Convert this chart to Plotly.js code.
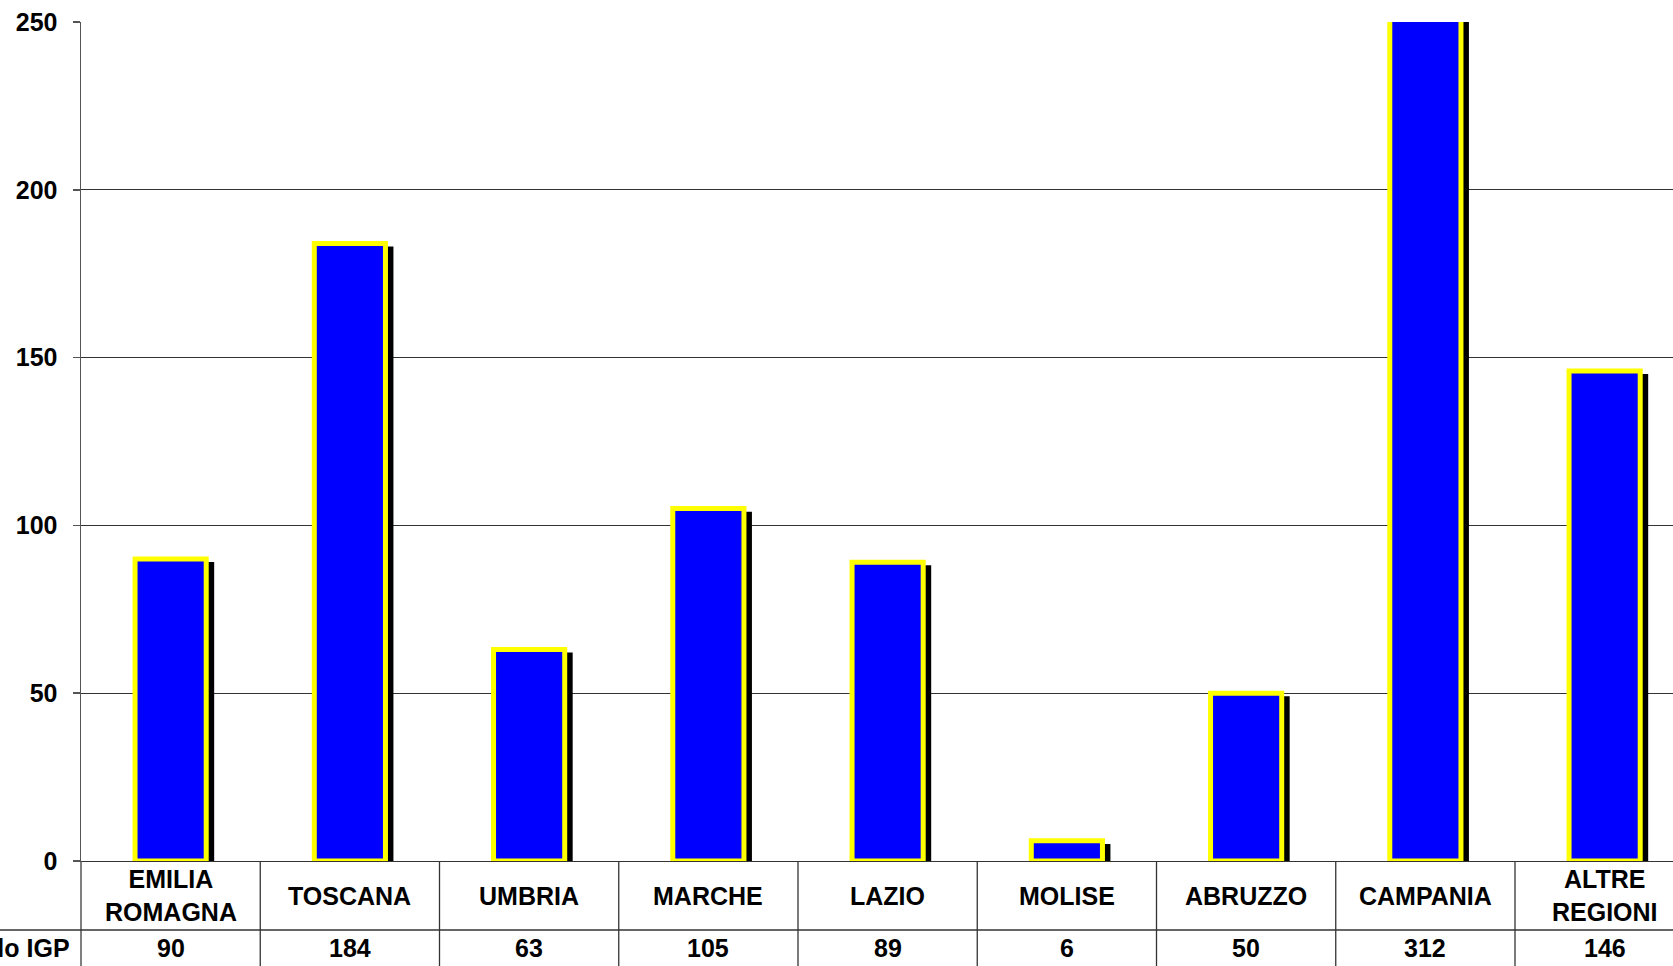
<!DOCTYPE html>
<html>
<head>
<meta charset="utf-8">
<script src="https://cdn.plot.ly/plotly-3.0.1.min.js"></script>
<style>html,body{margin:0;padding:0;background:#fff;}#chart{width:1673px;height:966px;}</style>
</head>
<body>
<div id="chart"></div>
<script>
const categories = ["EMILIA<br>ROMAGNA", "TOSCANA", "UMBRIA", "MARCHE", "LAZIO", "MOLISE", "ABRUZZO", "CAMPANIA", "ALTRE<br>REGIONI"];
const values = [90, 184, 63, 105, 89, 6, 50, 312, 146];
const rowLabel = "Titolo IGP";
const yTicks = [0, 50, 100, 150, 200, 250];

const W = 1673, H = 966;
const mL = 81, mR = 0, mT = 22, mB = 105;
const plotW = W - mL - mR, plotH = H - mT - mB;
const catPx = 179.25;
const xIdx = categories.map((c, i) => i);
const xMax = -0.5 + plotW / catPx;

const font = {family: "Liberation Sans, Arial, sans-serif", size: 25, color: "#000", weight: "bold"};

const shadow = {
  type: "bar", x: xIdx, y: values, base: -0.9,
  width: 0.41, offset: -0.167,
  marker: {color: "#000000", line: {width: 0}},
  hoverinfo: "skip", showlegend: false
};
const bars = {
  type: "bar", x: xIdx, y: values,
  width: 0.397,
  marker: {color: "#0000FF", line: {color: "#FFFF00", width: 5}},
  showlegend: false
};

const shapes = [];
// table vertical boundaries
for (let i = 0; i < categories.length; i++) {
  shapes.push({type: "line", xref: "x", yref: "paper", x0: i + 0.5, x1: i + 0.5, y0: 0, y1: -mB / plotH, line: {color: "#333", width: 1.3}});
}
// left edge of table (extension of y axis)
shapes.push({type: "line", xref: "paper", yref: "paper", x0: 0, x1: 0, y0: 0, y1: -mB / plotH, line: {color: "#555", width: 1.5}});
// row separator
shapes.push({type: "line", xref: "paper", yref: "paper", x0: -mL / plotW, x1: 1, y0: -69 / plotH, y1: -69 / plotH, line: {color: "#333", width: 1.3}});

const annotations = [];
categories.forEach((c, i) => {
  annotations.push({xref: "x", yref: "paper", x: i, y: -34.5 / plotH, text: c, showarrow: false, xanchor: "center", yanchor: "middle", font: font});
  annotations.push({xref: "x", yref: "paper", x: i, y: -87 / plotH, text: String(values[i]), showarrow: false, xanchor: "center", yanchor: "middle", font: font});
});
annotations.push({xref: "paper", yref: "paper", x: -9 / plotW, y: -87 / plotH, text: rowLabel, showarrow: false, xanchor: "right", yanchor: "middle", font: font});

const layout = {
  width: W, height: H,
  margin: {l: mL, r: mR, t: mT, b: mB, pad: 0},
  paper_bgcolor: "#fff", plot_bgcolor: "#fff",
  barmode: "overlay",
  showlegend: false,
  xaxis: {range: [-0.5, xMax], showticklabels: false, ticks: "", showgrid: false, zeroline: false,
          showline: true, linecolor: "#333", linewidth: 1.3, fixedrange: true},
  yaxis: {range: [0, 250], tickvals: yTicks, ticktext: yTicks.map(String), ticks: "outside", ticklen: 7, tickcolor: "#555", tickwidth: 1.5,
          showline: true, linecolor: "#555", linewidth: 1.5, showgrid: true, gridcolor: "#333", gridwidth: 1.2,
          zeroline: false, tickfont: font, ticklabelstandoff: 10, fixedrange: true},
  shapes: shapes,
  annotations: annotations
};

Plotly.newPlot("chart", [shadow, bars], layout, {displayModeBar: false, staticPlot: true});
</script>
</body>
</html>
